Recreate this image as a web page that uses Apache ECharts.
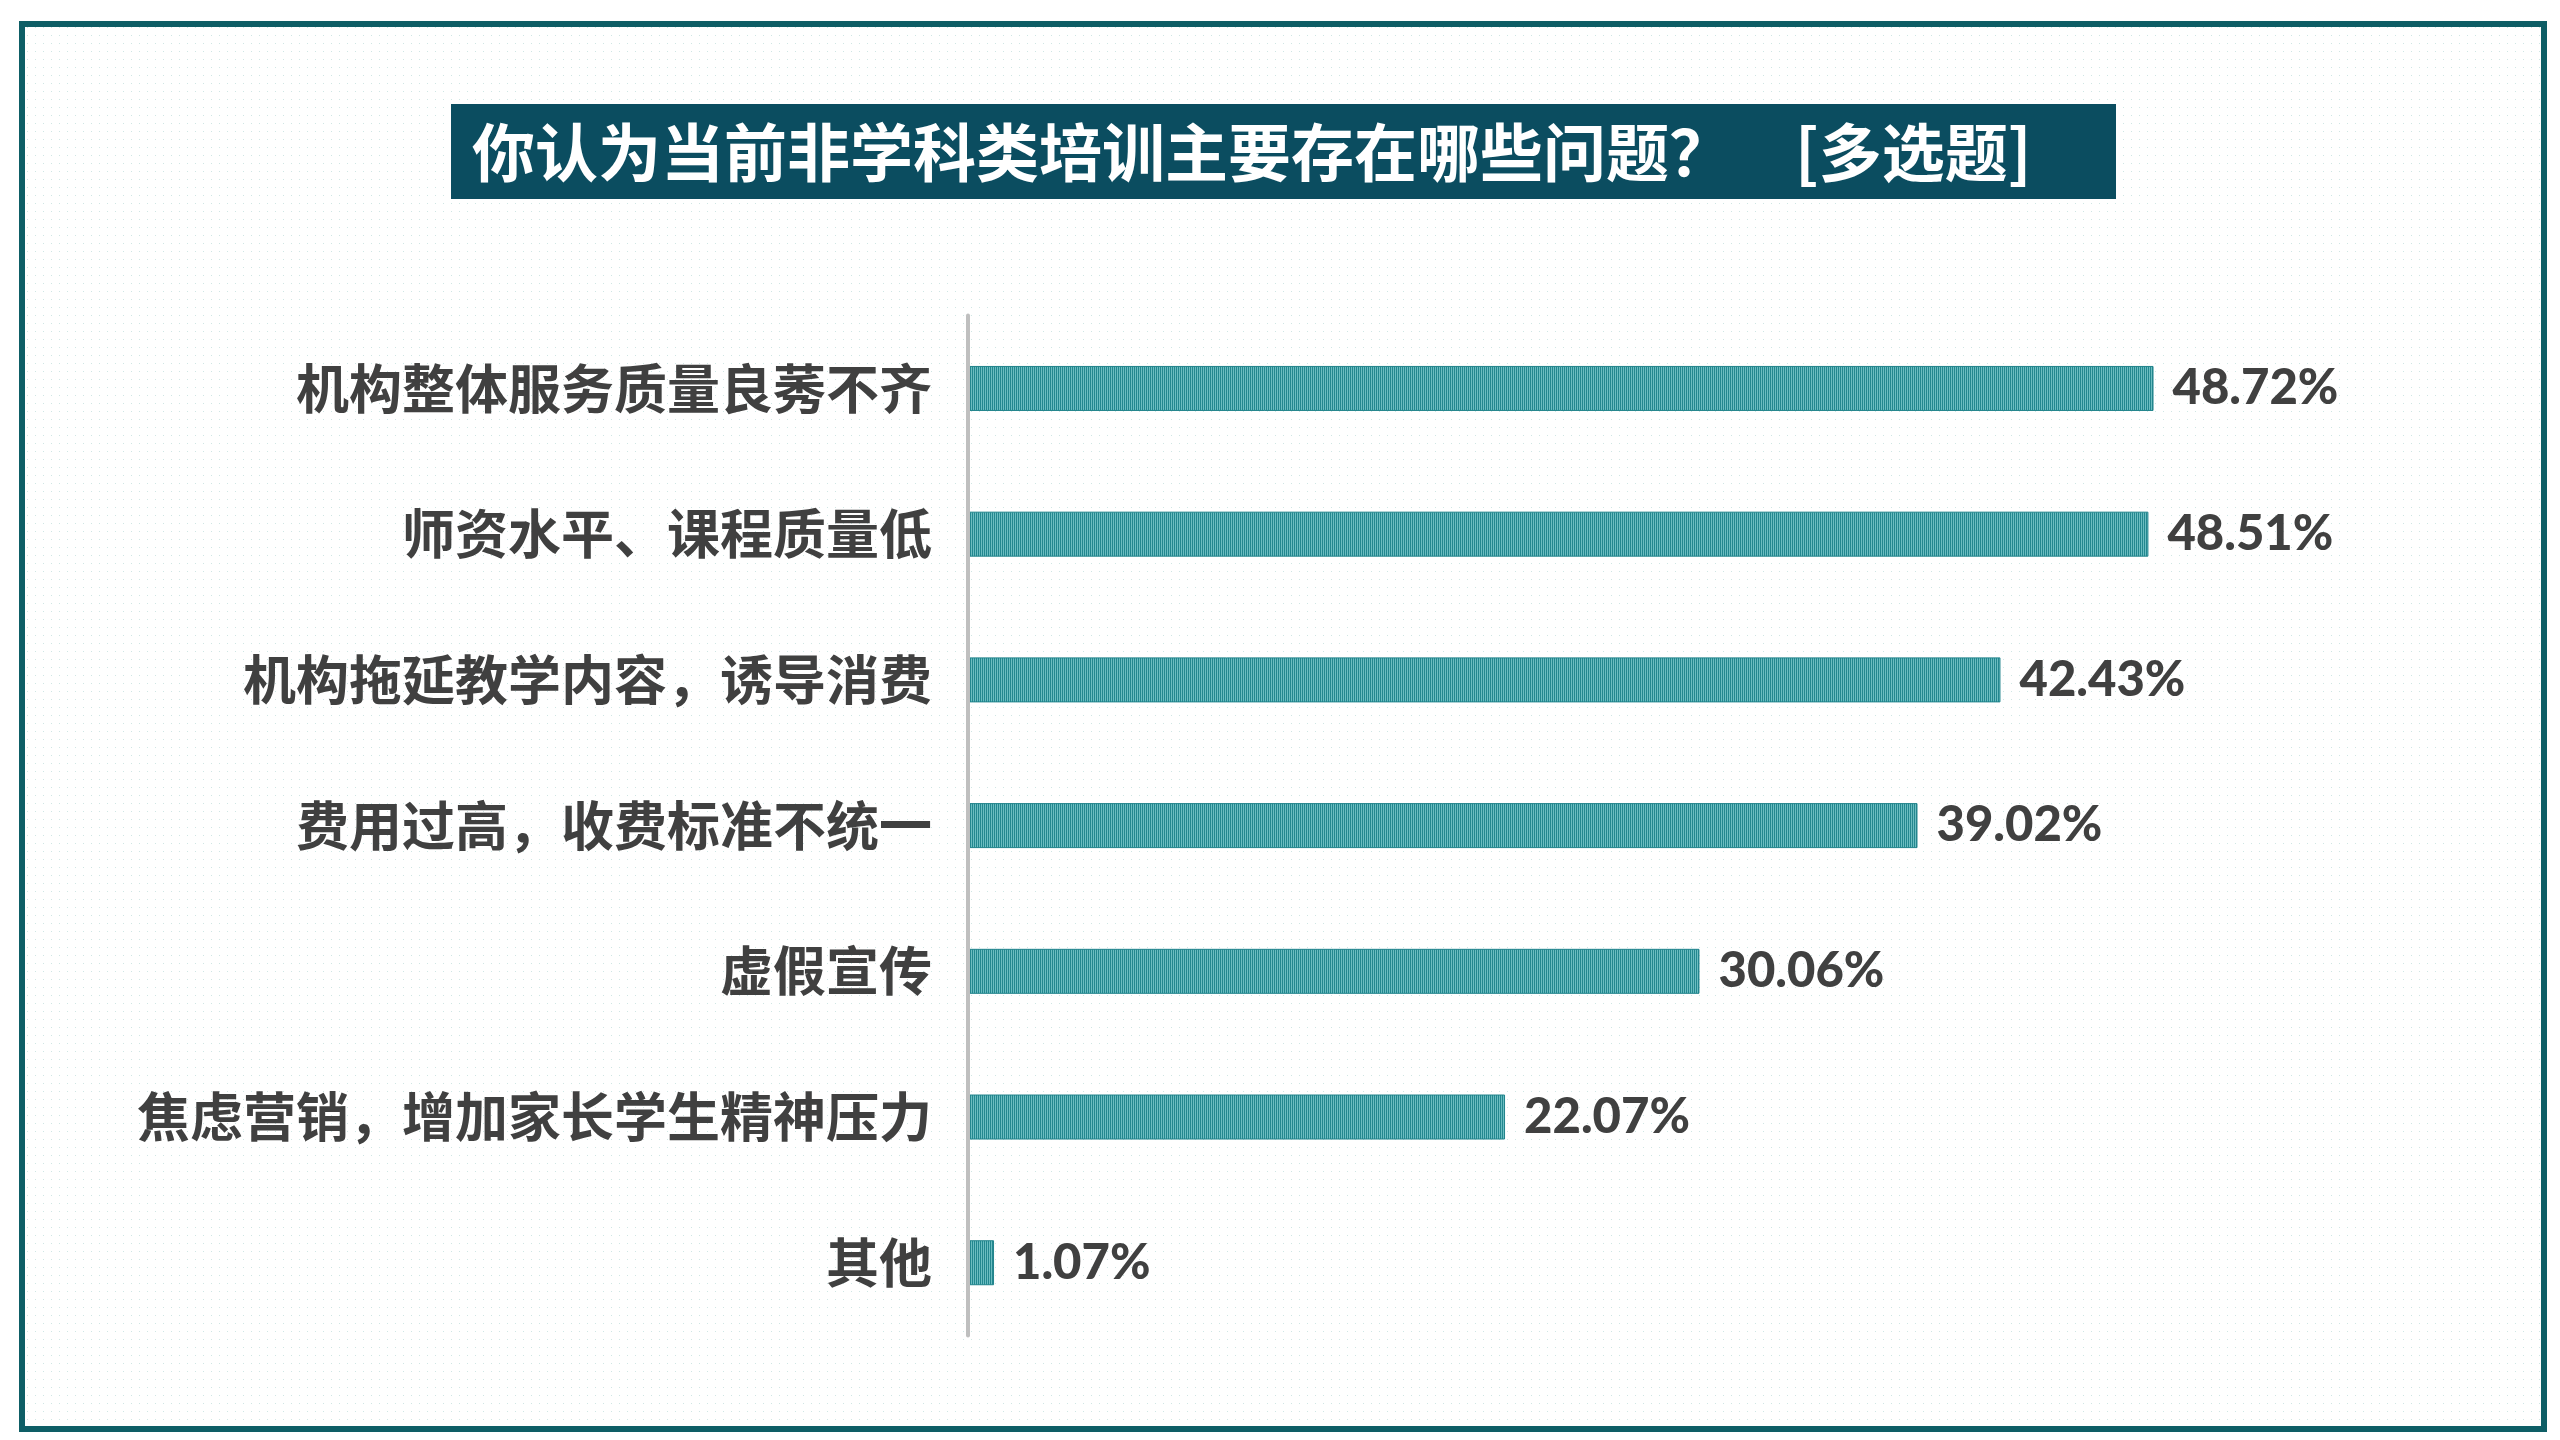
<!DOCTYPE html>
<html>
<head>
<meta charset="utf-8">
<script src="https://cdn.jsdelivr.net/npm/echarts@6/dist/echarts.min.js"></script>
<style>
html,body{margin:0;padding:0;background:#fff;}
#chart{width:2560px;height:1440px;}
</style>
</head>
<body>
<div id="chart"></div>
<script>
const titleText = '你认为当前非学科类培训主要存在哪些问题？\u3000[多选题]';
const categories = [
  '机构整体服务质量良莠不齐',
  '师资水平、课程质量低',
  '机构拖延教学内容，诱导消费',
  '费用过高，收费标准不统一',
  '虚假宣传',
  '焦虑营销，增加家长学生精神压力',
  '其他'
];
const values = [48.72, 48.51, 42.43, 39.02, 30.06, 22.07, 1.07];

function makeCanvas(w, h, draw) {
  const c = document.createElement('canvas');
  c.width = w; c.height = h;
  draw(c.getContext('2d'));
  return c;
}
const dotCanvas = makeCanvas(8, 8, ctx => {
  ctx.fillStyle = '#ffffff'; ctx.fillRect(0, 0, 8, 8);
  ctx.fillStyle = '#cfe6e4'; ctx.fillRect(3, 3, 1, 1);
});
const stripeCanvas = makeCanvas(2, 4, ctx => {
  ctx.fillStyle = '#23878f'; ctx.fillRect(0, 0, 1, 4);
  ctx.fillStyle = '#6cbdc1'; ctx.fillRect(1, 0, 1, 4);
});

const chart = echarts.init(document.getElementById('chart'), null, {renderer: 'canvas'});
chart.setOption({
  backgroundColor: '#ffffff',
  animation: false,
  graphic: [
    {
      type: 'rect', z: -10, silent: true,
      shape: {x: 22, y: 24, width: 2522, height: 1405},
      style: {fill: {image: dotCanvas, repeat: 'repeat'}, stroke: '#0e5e66', lineWidth: 6}
    },
    {
      type: 'rect', z: -5, silent: true,
      shape: {x: 451, y: 104, width: 1665, height: 95},
      style: {fill: '#0b4d60'}
    },
    {
      type: 'text', z: 10, silent: true,
      x: 472, y: 152,
      style: {
        text: titleText,
        fill: '#ffffff',
        font: 'bold 63px "Noto Sans CJK SC"',
        textAlign: 'left',
        textVerticalAlign: 'middle'
      }
    }
  ],
  grid: {left: 968, right: 132, top: 315.6, bottom: 104.4, containLabel: false},
  xAxis: {
    type: 'value', min: 0, max: 60, show: false
  },
  yAxis: {
    type: 'category',
    data: categories,
    inverse: true,
    axisLine: {show: true, lineStyle: {color: '#bfbfbf', width: 4}},
    axisTick: {show: false},
    axisLabel: {
      margin: 36,
      color: '#404040',
      fontSize: 53,
      fontWeight: 'bold',
      fontFamily: '"Noto Sans CJK SC"'
    },
    z: 5
  },
  series: [{
    type: 'bar',
    data: values,
    barWidth: 45,
    itemStyle: {color: {image: stripeCanvas, repeat: 'repeat'}, borderColor: '#1f838b', borderWidth: 1},
    label: {
      show: true,
      position: 'right',
      distance: 19,
      formatter: p => p.value.toFixed(2) + '%',
      color: '#404040',
      fontSize: 49,
      fontWeight: 900,
      fontFamily: 'Lato'
    }
  }]
});
</script>
</body>
</html>
